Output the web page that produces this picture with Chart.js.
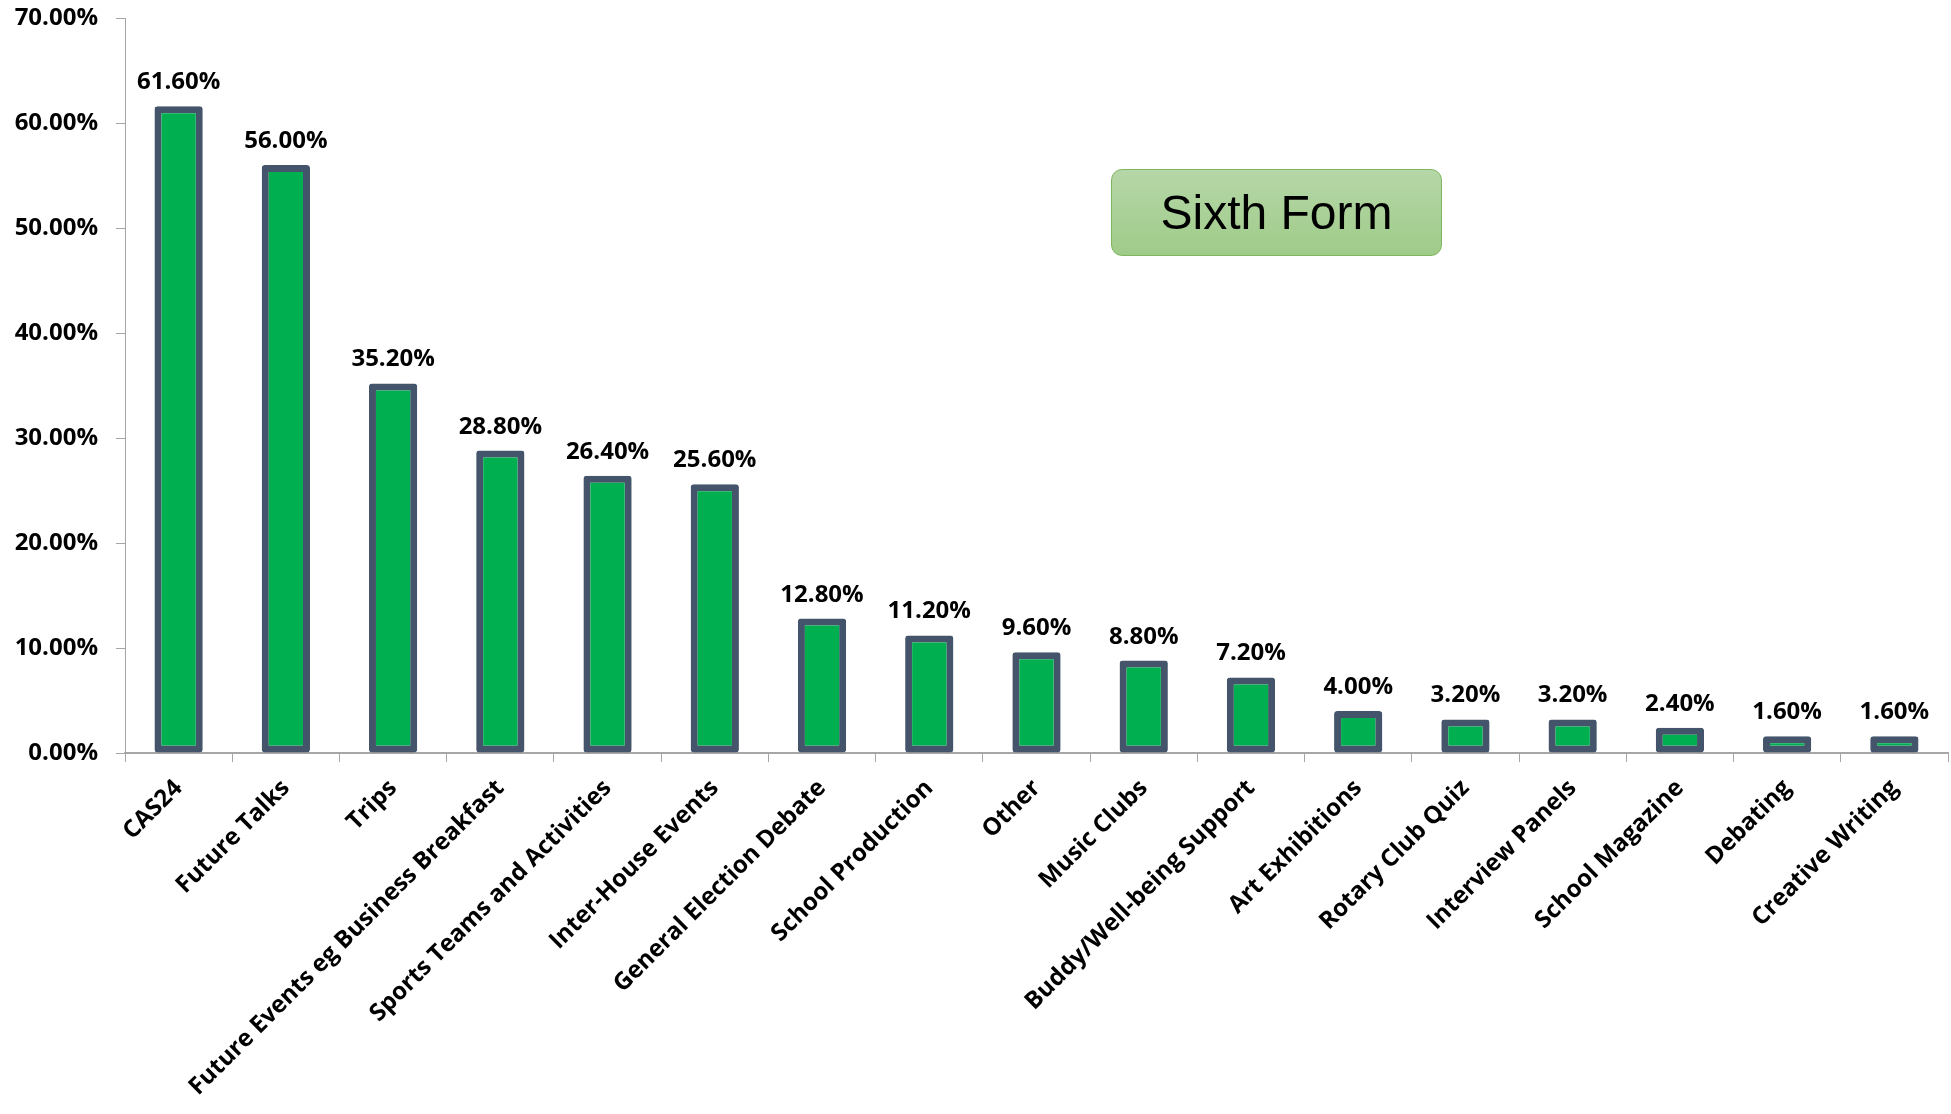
<!DOCTYPE html>
<html>
<head>
<meta charset="utf-8">
<script src="https://cdn.jsdelivr.net/npm/chart.js@4.4.1/dist/chart.umd.min.js"></script>
<style>
    body { margin: 0; background: #fff; }
    #wrap { position: relative; width: 1951px; height: 1114px; }
    #titleBox {
        position: absolute; left: 1111px; top: 169px; width: 329px; height: 85px;
        border: 1px solid #7DB65F; border-radius: 11px;
        background: linear-gradient(#B6D7A8, #9FCB89);
        font-family: "Liberation Sans", Arial, sans-serif; font-size: 48px;
        color: #000; display: flex; align-items: center; justify-content: center;
    }
</style>
</head>
<body>
<div id="wrap">
    <canvas id="chart"></canvas>
    <div id="titleBox">Sixth Form</div>
</div>
<script>
const categories = ['CAS24', 'Future Talks', 'Trips', 'Future Events eg Business Breakfast',
    'Sports Teams and Activities', 'Inter-House Events', 'General Election Debate',
    'School Production', 'Other', 'Music Clubs', 'Buddy/Well-being Support',
    'Art Exhibitions', 'Rotary Club Quiz', 'Interview Panels', 'School Magazine',
    'Debating', 'Creative Writing'];
const percentages = [61.6, 56.0, 35.2, 28.8, 26.4, 25.6, 12.8, 11.2, 9.6, 8.8, 7.2,
    4.0, 3.2, 3.2, 2.4, 1.6, 1.6];
const yTicks = [0, 10, 20, 30, 40, 50, 60, 70];

const labelFont = {family: '"Open Sans", sans-serif', size: 24, weight: 'bold'};

// draws the value above each bar
const valueLabels = {
    id: 'valueLabels',
    afterDatasetsDraw(chart) {
        const ctx = chart.ctx;
        ctx.save();
        ctx.font = 'bold 24px "Open Sans", sans-serif';
        ctx.fillStyle = '#000';
        ctx.textAlign = 'center';
        ctx.textBaseline = 'alphabetic';
        chart.getDatasetMeta(0).data.forEach((bar, i) => {
            ctx.fillText(percentages[i].toFixed(2) + '%', bar.x, bar.y - 17);
        });
        ctx.restore();
    }
};

new Chart(document.getElementById('chart'), {
    type: 'bar',
    data: {
        labels: categories,
        datasets: [{
            data: percentages,
            backgroundColor: '#00B050',
            borderColor: '#44546A',
            borderWidth: 7,
            borderRadius: 3,
            borderSkipped: false,
            categoryPercentage: 0.45,
            barPercentage: 1
        }]
    },
    options: {
        responsive: true,
        maintainAspectRatio: false,
        animation: false,
        layout: {padding: {top: 18, right: 3, left: 0, bottom: 0}},
        plugins: {legend: {display: false}, tooltip: {enabled: false}},
        scales: {
            x: {
                afterFit: s => { s.height = 361; },
                grid: {drawOnChartArea: false, drawTicks: true, tickLength: 9, color: '#A6A6A6', offset: true},
                border: {color: '#A6A6A6', width: 2},
                ticks: {
                    color: '#000', font: labelFont, minRotation: 45, maxRotation: 45,
                    autoSkip: false, padding: 12
                }
            },
            y: {
                min: 0, max: 70,
                afterFit: s => { s.width = 125; s.paddingTop = 0; s.paddingBottom = 0; },
                afterBuildTicks: s => { s.ticks = yTicks.map(v => ({value: v})); },
                grid: {drawOnChartArea: false, drawTicks: true, tickLength: 9, color: '#A6A6A6'},
                border: {color: '#A6A6A6', width: 1},
                ticks: {
                    color: '#000', font: labelFont, padding: 18,
                    callback: v => v.toFixed(2) + '%'
                }
            }
        }
    },
    plugins: [valueLabels]
});
</script>
</body>
</html>
